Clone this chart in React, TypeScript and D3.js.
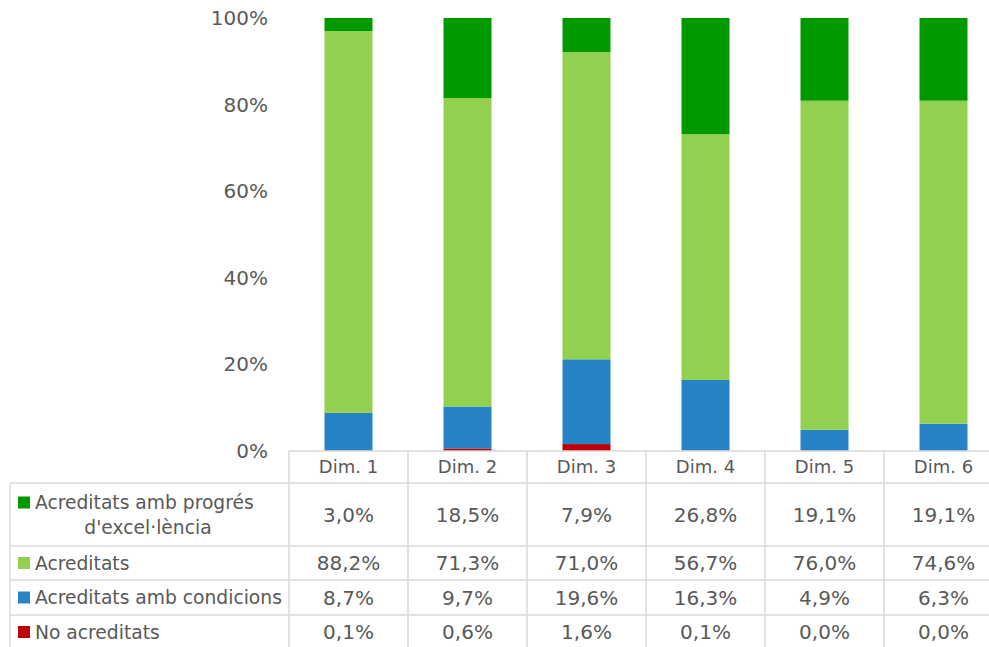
import React from "react";
import * as d3 from "d3";

const categories = ["Dim. 1", "Dim. 2", "Dim. 3", "Dim. 4", "Dim. 5", "Dim. 6"];
const seriesNames = [
  "Acreditats amb progrés d'excel·lència",
  "Acreditats",
  "Acreditats amb condicions",
  "No acreditats",
];
const progres = [3.0, 18.5, 7.9, 26.8, 19.1, 19.1];
const acreditats = [88.2, 71.3, 71.0, 56.7, 76.0, 74.6];
const condicions = [8.7, 9.7, 19.6, 16.3, 4.9, 6.3];
const noAcreditats = [0.1, 0.6, 1.6, 0.1, 0.0, 0.0];
const yTicks = [0, 0.2, 0.4, 0.6, 0.8, 1.0];
const colors = ["#009900", "#92D050", "#2683C6", "#C00000"];

const W = 989;
const H = 647;
const FONT = "DejaVu Sans, sans-serif";
const TXT = "#595959";
const GRID = "#D9D9D9";

export default function App() {
  const values = [progres, acreditats, condicions, noAcreditats];
  const tableLeft = 289;
  const colW = 119;
  const x = d3
    .scaleBand<string>()
    .domain(categories)
    .range([tableLeft, tableLeft + colW * categories.length])
    .paddingInner(0)
    .paddingOuter(0);
  const y = d3.scaleLinear().domain([0, 1]).range([451, 18]);
  const barW = 48;

  const rows = categories.map((c, i) => {
    const r: any = { cat: c };
    const total = progres[i] + acreditats[i] + condicions[i] + noAcreditats[i];
    r.no = noAcreditats[i] / total;
    r.cond = condicions[i] / total;
    r.acr = acreditats[i] / total;
    r.prog = progres[i] / total;
    return r;
  });
  const keys = ["no", "cond", "acr", "prog"];
  const keyColor: Record<string, string> = {
    no: colors[3],
    cond: colors[2],
    acr: colors[1],
    prog: colors[0],
  };
  const stacked = d3.stack<any>().keys(keys)(rows);

  const fmt = (v: number) => v.toFixed(1).replace(".", ",") + "%";

  const headerTop = 451;
  const headerBottom = 483;
  const rowBounds = [483, 546, 580, 615, 652];
  const legendLeft = 10;
  const tableRight = tableLeft + colW * categories.length;
  const fsHead = 18;
  const fsNum = 20;
  const fsLeg = 18.7;

  return (
    <svg
      width={W}
      height={H}
      style={{ position: "absolute", left: 0, top: 0, background: "#fff" }}
      fontFamily={FONT}
    >
      {yTicks.map((t) => (
        <text
          key={t}
          x={268}
          y={y(t)}
          dy="0.35em"
          textAnchor="end"
          fontSize={fsNum}
          fill={TXT}
        >
          {Math.round(t * 100) + "%"}
        </text>
      ))}

      {stacked.map((layer) => (
        <g key={layer.key}>
          {layer.map((d, i) => {
            const h = y(d[0]) - y(d[1]);
            if (h <= 0) return null;
            return (
              <rect
                key={i}
                x={(x(categories[i]) as number) + x.bandwidth() / 2 - barW / 2}
                y={y(d[1])}
                width={barW}
                height={h}
                fill={keyColor[layer.key as string]}
              />
            );
          })}
        </g>
      ))}

      <g stroke={GRID} strokeWidth={1.5} fill="none">
        <line x1={tableLeft} x2={tableRight} y1={headerTop} y2={headerTop} />
        {rowBounds.map((b, i) => (
          <line key={i} x1={legendLeft} x2={tableRight} y1={b} y2={b} />
        ))}
        <line x1={legendLeft} x2={legendLeft} y1={headerBottom} y2={H + 5} />
        {categories.map((c) => (
          <line
            key={c}
            x1={x(c) as number}
            x2={x(c) as number}
            y1={headerTop}
            y2={H + 5}
          />
        ))}
        <line x1={tableRight} x2={tableRight} y1={headerTop} y2={H + 5} />
      </g>

      {categories.map((c) => (
        <text
          key={c}
          x={(x(c) as number) + x.bandwidth() / 2}
          y={(headerTop + headerBottom) / 2}
          dy="0.35em"
          textAnchor="middle"
          fontSize={fsHead}
          fill={TXT}
        >
          {c}
        </text>
      ))}

      {seriesNames.map((name, si) => {
        const top = rowBounds[si];
        const bottom = si === 3 ? 650 : rowBounds[si + 1];
        const cy = si === 3 ? 632 : (top + bottom) / 2;
        const lines =
          si === 0 ? ["Acreditats amb progrés", "d'excel·lència"] : [name];
        return (
          <g key={name}>
            {lines.length === 1 ? (
              <>
                <rect x={18} y={cy - 6} width={12} height={12} fill={colors[si]} />
                <text x={35} y={cy} dy="0.35em" fontSize={fsLeg} fill={TXT}>
                  {lines[0]}
                </text>
              </>
            ) : (
              <>
                <rect x={18} y={cy - 18} width={12} height={12} fill={colors[si]} />
                <text x={35} y={cy - 12} dy="0.35em" fontSize={fsLeg} fill={TXT}>
                  {lines[0]}
                </text>
                <text
                  x={148}
                  y={cy + 13}
                  dy="0.35em"
                  fontSize={fsLeg}
                  fill={TXT}
                  textAnchor="middle"
                >
                  {lines[1]}
                </text>
              </>
            )}
            {values[si].map((v, ci) => (
              <text
                key={ci}
                x={(x(categories[ci]) as number) + x.bandwidth() / 2}
                y={cy}
                dy="0.35em"
                textAnchor="middle"
                fontSize={fsNum}
                fill={TXT}
              >
                {fmt(v)}
              </text>
            ))}
          </g>
        );
      })}
    </svg>
  );
}
